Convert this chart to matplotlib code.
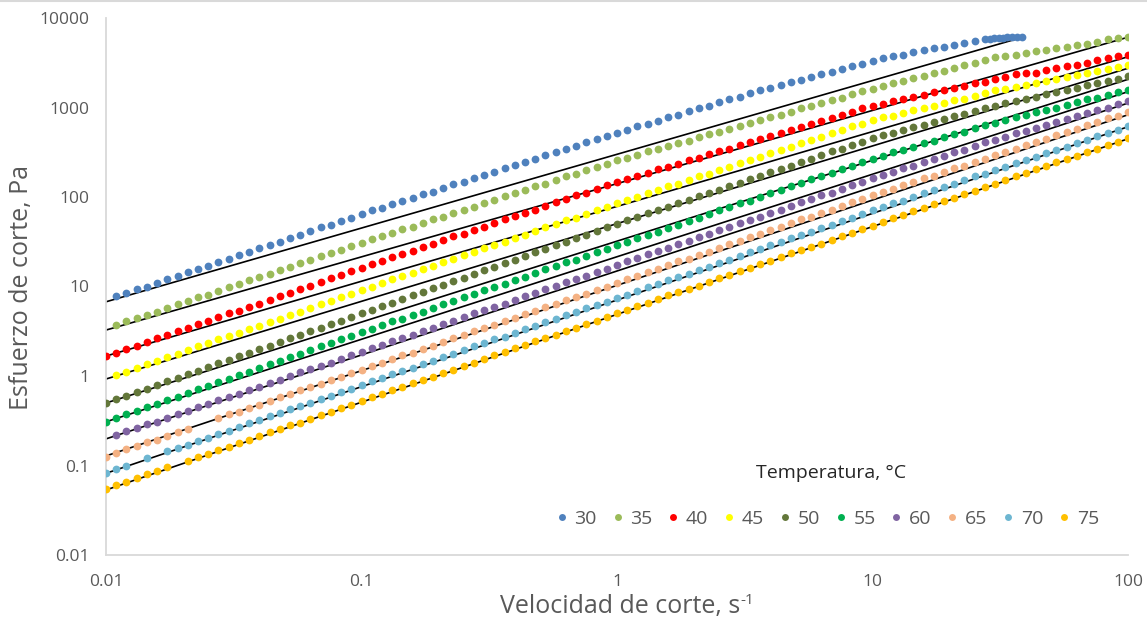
import numpy as np
import matplotlib
matplotlib.use('Agg')
import matplotlib.pyplot as plt
from matplotlib.lines import Line2D

plt.rcParams['font.family'] = ['Open Sans', 'DejaVu Sans']

nan = float('nan')

# shear-rate grid of the rheometer: 25 points per decade, 0.01 .. 100 1/s
rate_mantissa = [1.000, 1.096, 1.202, 1.318, 1.445, 1.585, 1.738, 1.905, 2.089, 2.291,
                 2.512, 2.754, 3.020, 3.311, 3.631, 3.981, 4.365, 4.786, 5.248, 5.754,
                 6.310, 6.918, 7.586, 8.318, 9.120]
rate_decades = [0.01, 0.1, 1, 10]
rate_last = 100.0

temps = ['30', '35', '40', '45', '50', '55', '60', '65', '70', '75']
colors = ['#4F81BD', '#9BBB59', '#FF0000', '#FFFF00', '#63773A',
          '#00B050', '#8064A2', '#F4B183', '#6DB6D1', '#FFC000']

# shear stress, log10(Pa), one value per grid rate (nan = no point)
log_tau_30 = [nan,
    0.89, 0.93, 0.97, 1.00, 1.04, 1.08, 1.12, 1.16, 1.20, 1.23, 1.27, 1.31, 1.35, 1.39, 1.43, 1.46, 1.50, 1.54, 1.58, 1.62, 1.66, 1.69, 1.73, 1.77, 1.81,
    1.85, 1.88, 1.92, 1.96, 1.99, 2.03, 2.06, 2.10, 2.14, 2.17, 2.21, 2.25, 2.28, 2.32, 2.36, 2.39, 2.43, 2.47, 2.50, 2.54, 2.57, 2.61, 2.65, 2.68, 2.72,
    2.75, 2.79, 2.82, 2.85, 2.89, 2.92, 2.96, 2.99, 3.02, 3.06, 3.09, 3.12, 3.16, 3.19, 3.22, 3.25, 3.28, 3.31, 3.34, 3.37, 3.40, 3.43, 3.46, 3.49, 3.52,
    3.55, 3.57, 3.59, 3.62, 3.64, 3.66, 3.68, 3.70, 3.72, 3.74,
    nan, nan, nan, nan, nan, nan, nan, nan, nan, nan, nan, nan, nan, nan, nan]
# 30 °C reaches the torque limit: extra points packed at the end
rate_30_tail = [27.5, 28.8, 30.0, 31.2, 32.4, 33.7, 35.2, 36.8, 38.5]
log_tau_30_tail = [3.77, 3.77, 3.78, 3.78, 3.78, 3.79, 3.79, 3.79, 3.79]

log_tau_35 = [nan,
    0.57, 0.61, 0.65, 0.68, 0.72, 0.76, 0.80, 0.84, 0.88, 0.91, 0.95, 0.99, 1.03, 1.07, 1.11, 1.14, 1.18, 1.22, 1.26, 1.30, 1.34, 1.37, 1.41, 1.45, 1.49,
    1.53, 1.56, 1.60, 1.64, 1.67, 1.71, 1.75, 1.78, 1.82, 1.86, 1.89, 1.93, 1.97, 2.01, 2.04, 2.08, 2.12, 2.15, 2.19, 2.23, 2.26, 2.30, 2.34, 2.37, 2.41,
    2.44, 2.47, 2.51, 2.54, 2.57, 2.60, 2.63, 2.67, 2.70, 2.73, 2.76, 2.79, 2.83, 2.86, 2.89, 2.92, 2.95, 2.99, 3.02, 3.05, 3.08, 3.11, 3.15, 3.18, 3.21,
    3.24, 3.27, 3.30, 3.33, 3.35, 3.38, 3.41, 3.44, 3.47, 3.50, 3.53, 3.56,
    3.57, 3.59, 3.61, 3.63, 3.64, 3.66, 3.68, 3.70, 3.71, 3.73, 3.76, 3.78, 3.79]

log_tau_40 = [0.22,
    0.26, 0.30, 0.34, 0.38, 0.42, 0.46, 0.50, 0.54, 0.58, 0.62, 0.66, 0.70, 0.73, 0.77, 0.81, 0.85, 0.89, 0.93, 0.97, 1.01, 1.05, 1.09, 1.13, 1.17, 1.21,
    1.25, 1.29, 1.33, 1.36, 1.40, 1.44, 1.48, 1.52, 1.56, 1.59, 1.63, 1.67, 1.71, 1.75, 1.79, 1.82, 1.86, 1.90, 1.94, 1.98, 2.02, 2.05, 2.09, 2.13, 2.17,
    2.20, 2.24, 2.27, 2.31, 2.34, 2.37, 2.41, 2.44, 2.48, 2.51, 2.54, 2.58, 2.61, 2.65, 2.68, 2.71, 2.75, 2.78, 2.82, 2.85, 2.88, 2.92, 2.95, 2.99, 3.02,
    3.04, 3.07, 3.09, 3.12, 3.14, 3.17, 3.19, 3.22, 3.24, 3.27, 3.29, 3.32,
    3.34, 3.37, 3.38, 3.38, 3.42, 3.44, 3.46, 3.48, 3.50, 3.53, 3.55, 3.57, 3.59]

log_tau_45 = [nan,
    0.01, 0.05, 0.09, 0.13, 0.17, 0.21, 0.25, 0.29, 0.33, 0.37, 0.41, 0.45, 0.48, 0.52, 0.56, 0.60, 0.64, 0.68, 0.72, 0.76, 0.80, 0.84, 0.88, 0.92, 0.96,
    1.00, 1.04, 1.08, 1.12, 1.15, 1.19, 1.23, 1.27, 1.31, 1.35, 1.39, 1.43, 1.46, 1.50, 1.54, 1.58, 1.62, 1.66, 1.70, 1.74, 1.77, 1.81, 1.85, 1.89, 1.93,
    1.97, 2.00, 2.04, 2.08, 2.12, 2.15, 2.19, 2.23, 2.26, 2.30, 2.34, 2.38, 2.41, 2.45, 2.49, 2.53, 2.56, 2.60, 2.64, 2.67, 2.71, 2.75, 2.79, 2.82, 2.86,
    2.89, 2.91, 2.94, 2.97, 3.00, 3.02, 3.05, 3.08, 3.10, 3.13, 3.16, 3.19,
    3.21, 3.23, 3.25, 3.27, 3.30, 3.32, 3.34, 3.36, 3.38, 3.41, 3.43, 3.45, 3.47]

log_tau_50 = [-0.30,
    -0.26, -0.22, -0.18, -0.14, -0.10, -0.06, -0.02, 0.02, 0.06, 0.10, 0.14, 0.18, 0.22, 0.26, 0.30, 0.34, 0.38, 0.42, 0.46, 0.50, 0.54, 0.58, 0.62, 0.66, 0.70,
    0.74, 0.78, 0.82, 0.86, 0.90, 0.94, 0.98, 1.02, 1.06, 1.10, 1.14, 1.18, 1.22, 1.26, 1.30, 1.34, 1.38, 1.42, 1.46, 1.50, 1.54, 1.58, 1.62, 1.66, 1.70,
    1.74, 1.78, 1.82, 1.85, 1.89, 1.93, 1.97, 2.01, 2.05, 2.08, 2.12, 2.16, 2.20, 2.24, 2.28, 2.31, 2.35, 2.39, 2.43, 2.47, 2.51, 2.54, 2.58, 2.62, 2.66,
    2.69, 2.72, 2.75, 2.78, 2.81, 2.84, 2.87, 2.90, 2.93, 2.96, 2.99, 3.02,
    3.05, 3.07, 3.10, 3.12, 3.15, 3.17, 3.20, 3.22, 3.25, 3.27, 3.30, 3.32, 3.35]

log_tau_55 = [-0.51,
    -0.47, -0.43, -0.39, -0.35, -0.31, -0.27, -0.23, -0.19, -0.15, -0.11, -0.07, -0.03, 0.01, 0.05, 0.09, 0.13, 0.17, 0.21, 0.25, 0.29, 0.33, 0.37, 0.41, 0.45, 0.49,
    0.53, 0.57, 0.61, 0.64, 0.68, 0.72, 0.76, 0.80, 0.84, 0.88, 0.92, 0.96, 0.99, 1.03, 1.07, 1.11, 1.15, 1.19, 1.23, 1.27, 1.30, 1.34, 1.38, 1.42, 1.46,
    1.50, 1.54, 1.58, 1.61, 1.65, 1.69, 1.73, 1.77, 1.81, 1.85, 1.89, 1.93, 1.96, 2.00, 2.04, 2.08, 2.12, 2.16, 2.20, 2.24, 2.27, 2.31, 2.35, 2.39, 2.43,
    2.46, 2.50, 2.53, 2.56, 2.60, 2.63, 2.67, 2.70, 2.73, 2.77, 2.80, 2.83,
    2.86, 2.89, 2.92, 2.95, 2.97, 3.00, 3.03, 3.06, 3.09, 3.11, 3.14, 3.17, 3.20]

log_tau_60 = [nan,
    -0.66, -0.62, -0.58, -0.54, -0.51, -0.47, -0.43, -0.39, -0.35, -0.31, -0.27, -0.23, -0.20, -0.16, -0.12, -0.08, -0.04, 0.00, 0.04, 0.08, 0.11, 0.15, 0.19, 0.23, 0.27,
    0.31, 0.35, 0.39, 0.43, 0.46, 0.50, 0.54, 0.58, 0.62, 0.66, 0.70, 0.74, 0.77, 0.81, 0.85, 0.89, 0.93, 0.97, 1.01, 1.05, 1.08, 1.12, 1.16, 1.20, 1.24,
    1.28, 1.32, 1.36, 1.40, 1.43, 1.47, 1.51, 1.55, 1.59, 1.63, 1.67, 1.71, 1.74, 1.78, 1.82, 1.86, 1.90, 1.94, 1.98, 2.02, 2.05, 2.09, 2.13, 2.17, 2.21,
    2.25, 2.28, 2.32, 2.35, 2.39, 2.43, 2.46, 2.50, 2.53, 2.57, 2.61, 2.64,
    2.67, 2.71, 2.74, 2.77, 2.81, 2.84, 2.87, 2.90, 2.94, 2.97, 3.00, 3.04, 3.07]

log_tau_65 = [-0.90,
    -0.86, -0.82, -0.78, -0.74, -0.71, -0.67, -0.63, -0.59, nan, nan, -0.47, -0.43, -0.40, -0.36, -0.32, -0.28, -0.24, -0.20, -0.16, -0.12, -0.09, -0.05, -0.01, 0.03, 0.07,
    0.11, 0.15, 0.19, 0.23, 0.26, 0.30, 0.34, 0.38, 0.42, 0.46, 0.50, 0.54, 0.57, 0.61, 0.65, 0.69, 0.73, 0.77, 0.81, 0.85, 0.88, 0.92, 0.96, 1.00, 1.04,
    1.08, 1.12, 1.16, 1.20, 1.24, 1.28, 1.31, 1.35, 1.39, 1.43, 1.47, 1.51, 1.55, 1.59, 1.63, 1.67, 1.71, 1.75, 1.78, 1.82, 1.86, 1.90, 1.94, 1.98, 2.02,
    2.06, 2.09, 2.13, 2.17, 2.21, 2.24, 2.28, 2.32, 2.35, 2.39, 2.43, 2.47, 2.50, 2.54, 2.58, 2.62, 2.65, 2.69, 2.73, 2.76, 2.80, 2.84, 2.88, 2.91, 2.95]

log_tau_70 = [-1.08,
    -1.04, -1.00, nan, -0.92, nan, -0.84, -0.81, -0.77, -0.73, -0.69, -0.65, -0.61, -0.57, -0.53, -0.49, -0.45, -0.41, -0.37, -0.34, -0.30, -0.26, -0.22, -0.18, -0.14, -0.10,
    -0.06, -0.02, 0.02, 0.06, 0.09, 0.13, 0.17, 0.21, 0.25, 0.29, 0.33, 0.37, 0.41, 0.44, 0.48, 0.52, 0.56, 0.60, 0.64, 0.68, 0.72, 0.76, 0.79, 0.83, 0.87,
    0.91, 0.95, 0.99, 1.03, 1.07, 1.11, 1.14, 1.18, 1.22, 1.26, 1.30, 1.34, 1.38, 1.42, 1.46, 1.50, 1.54, 1.58, 1.61, 1.65, 1.69, 1.73, 1.77, 1.81, 1.85,
    1.89, 1.93, 1.96, 2.00, 2.04, 2.08, 2.11, 2.15, 2.19, 2.23, 2.26, 2.30, 2.34, 2.38, 2.41, 2.45, 2.49, 2.53, 2.56, 2.60, 2.64, 2.68, 2.71, 2.75, 2.79]

log_tau_75 = [-1.26,
    -1.22, -1.18, -1.14, -1.10, -1.06, -1.02, nan, -0.95, -0.91, -0.87, -0.83, -0.79, -0.75, -0.71, -0.67, -0.63, -0.59, -0.55, -0.52, -0.48, -0.44, -0.40, -0.36, -0.32, -0.28,
    -0.24, -0.20, -0.16, -0.12, -0.08, -0.04, -0.01, 0.03, 0.07, 0.11, 0.15, 0.19, 0.23, 0.27, 0.31, 0.35, 0.39, 0.43, 0.46, 0.50, 0.54, 0.58, 0.62, 0.66, 0.70,
    0.74, 0.78, 0.82, 0.86, 0.90, 0.94, 0.97, 1.01, 1.05, 1.09, 1.13, 1.17, 1.21, 1.25, 1.29, 1.33, 1.37, 1.41, 1.44, 1.48, 1.52, 1.56, 1.60, 1.64, 1.68,
    1.72, 1.76, 1.80, 1.84, 1.88, 1.92, 1.95, 1.99, 2.03, 2.07, 2.11, 2.15, 2.19, 2.23, 2.27, 2.31, 2.35, 2.39, 2.42, 2.46, 2.50, 2.54, 2.58, 2.62, 2.66]

# power-law trend lines tau = K * rate^n (black lines)
fit_K = [300.0, 141.0, 78.5, 50.4, 32.1, 21.5, 14.9, 10.3, 7.06, 4.88]
fit_n = [0.824, 0.818, 0.836, 0.868, 0.904, 0.922, 0.938, 0.953, 0.968, 0.981]

x_ticks = [0.01, 0.1, 1, 10, 100]
x_ticklabels = ['0.01', '0.1', '1', '10', '100']
y_ticks = [0.01, 0.1, 1, 10, 100, 1000, 10000]
y_ticklabels = ['0.01', '0.1', '1', '10', '100', '1000', '10000']

rate = np.append(np.outer(rate_decades, rate_mantissa).ravel(), rate_last)

series = [log_tau_30, log_tau_35, log_tau_40, log_tau_45, log_tau_50,
          log_tau_55, log_tau_60, log_tau_65, log_tau_70, log_tau_75]

grey = '#595959'
fig = plt.figure(figsize=(11.47, 6.25), dpi=100)
ax = fig.add_axes([106 / 1147, 70 / 625, 1022 / 1147, 537 / 625])

for i, logs in enumerate(series):
    y = 10 ** np.array(logs, dtype=float)
    x = rate.copy()
    if i == 0:
        x = np.concatenate([x, rate_30_tail])
        y = np.concatenate([y, 10 ** np.array(log_tau_30_tail)])
    ok = np.isfinite(y)
    x, y = x[ok], y[ok]
    # trend line from 0.01 up to the last measured rate
    xl = np.array([0.01, x.max()])
    ax.plot(xl, fit_K[i] * xl ** fit_n[i], color='black', lw=1.2, zorder=2)
    ax.plot(x, y, 'o', ms=5.6, color=colors[i], mec='none', zorder=3)

ax.set_xscale('log')
ax.set_yscale('log')
ax.set_xlim(0.01, 100)
ax.set_ylim(0.01, 10000)
ax.set_xticks(x_ticks)
ax.set_xticklabels(x_ticklabels)
ax.set_yticks(y_ticks)
ax.set_yticklabels(y_ticklabels)
ax.minorticks_off()
ax.tick_params(length=0, labelsize=12.5, labelcolor=grey)
ax.tick_params(axis='x', pad=14)
ax.tick_params(axis='y', pad=12)
for s in ['top', 'right']:
    ax.spines[s].set_visible(False)
for s in ['left', 'bottom']:
    ax.spines[s].set_color('#D9D9D9')
    ax.spines[s].set_linewidth(1.3)

xlab = fig.text(620 / 1147, 1 - 607 / 625, 'Velocidad de corte, s',
                ha='center', va='center', fontsize=18, color=grey)
# small "-1" exponent placed right after the x label
ax.annotate('-1', xy=(1.0, 0.78), xycoords=xlab, ha='left', va='center',
            fontsize=11, color=grey, annotation_clip=False)
fig.text(22 / 1147, 1 - 287 / 625, 'Esfuerzo de corte, Pa', rotation=90,
         ha='center', va='center', fontsize=18, color=grey)

handles = [Line2D([], [], marker='o', ls='none', color=c, mec='none', ms=5) for c in colors]
ax.legend(handles, temps, ncol=10, loc='center',
          bbox_to_anchor=(827 / 1147, 1 - 519 / 625), bbox_transform=fig.transFigure,
          frameon=False, fontsize=14, handlelength=0.7, handletextpad=0.3,
          columnspacing=0.72, labelcolor=grey, borderpad=0)
fig.text(831 / 1147, 1 - 473 / 625, 'Temperatura, °C', ha='center', va='center',
         fontsize=14, color='#262626')

# thin frame line along the top of the chart area
fig.add_artist(Line2D([0, 1], [0.998, 0.998], transform=fig.transFigure,
                      color='#D9D9D9', lw=1.5))

fig.savefig('out.png', dpi=100)
